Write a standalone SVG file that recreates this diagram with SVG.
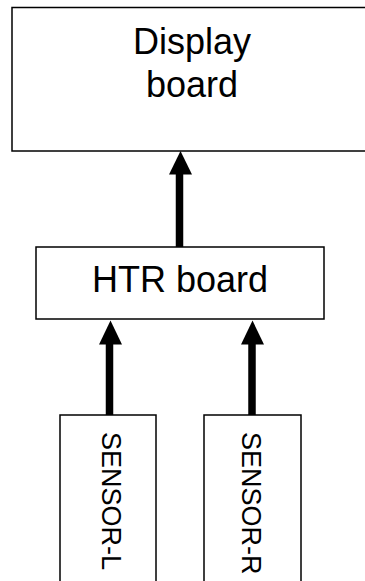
<svg xmlns="http://www.w3.org/2000/svg" width="365" height="581" viewBox="0 0 365 581">
  <style>
    .box { fill: #ffffff; stroke: #000000; stroke-width: 1.5; }
    .lbl { font-family: "Liberation Sans", Arial, sans-serif; fill: #000000; }
    .big { font-size: 36px; text-anchor: middle; }
    .side { font-size: 27px; }
    .shaft { stroke: #000000; stroke-width: 7.5; fill: none; }
    .head { fill: #000000; }
  </style>
  <rect width="365" height="581" fill="#ffffff"/>

  <g id="display-board">
    <rect class="box" x="12" y="7.5" width="380" height="143.5"/>
    <text class="lbl big" x="192" y="54">Display</text>
    <text class="lbl big" x="192" y="97">board</text>
  </g>

  <g id="htr-board">
    <rect class="box" x="36" y="247" width="288" height="72"/>
    <text class="lbl big" x="180" y="292">HTR board</text>
  </g>

  <g id="sensor-l">
    <rect class="box" x="60" y="415" width="96" height="180"/>
    <text class="lbl side" transform="translate(102,432) rotate(90)">SENSOR-L</text>
  </g>

  <g id="sensor-r">
    <rect class="box" x="204" y="415" width="97" height="180"/>
    <text class="lbl side" transform="translate(242,432) rotate(90)">SENSOR-R</text>
  </g>

  <g id="connectors">
    <!-- HTR board to Display board -->
    <line class="shaft" x1="179.5" y1="247" x2="179.5" y2="172"/>
    <polygon class="head" points="180.5,151 169,174.5 192,174.5"/>
    <!-- SENSOR-L to HTR board -->
    <line class="shaft" x1="109.5" y1="415" x2="109.5" y2="342"/>
    <polygon class="head" points="110.5,320.5 99,344.5 122,344.5"/>
    <!-- SENSOR-R to HTR board -->
    <line class="shaft" x1="252" y1="415" x2="252" y2="342"/>
    <polygon class="head" points="252.5,320.5 241,344.5 264,344.5"/>
  </g>
</svg>
